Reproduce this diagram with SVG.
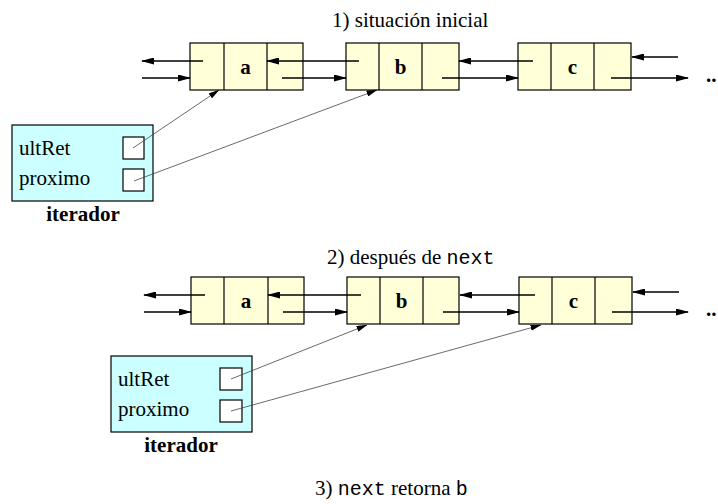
<svg xmlns="http://www.w3.org/2000/svg" width="718" height="504" viewBox="0 0 718 504">
  <style>
    .cell { fill: #ffffd8; stroke: #000; stroke-width: 1.2; }
    .div { stroke: #000; stroke-width: 1.2; }
    .iter { fill: #ccffff; stroke: #000; stroke-width: 1.2; }
    .slot { fill: #fff; stroke: #000; stroke-width: 1.2; }
    .lnk { fill: none; stroke: #000; stroke-width: 1.3; marker-end: url(#head); }
    .ptr { fill: none; stroke: #444; stroke-width: 0.8; marker-end: url(#phead); }
    .t { font-family: "Liberation Serif", "Times New Roman", serif; font-size: 21px; fill: #000; }
    .b { font-weight: bold; }
    .m { font-family: "Liberation Mono", "Courier New", monospace; font-size: 20px; }
  </style>
  <defs>
    <marker id="head" markerUnits="userSpaceOnUse" viewBox="0 0 13 7" refX="12" refY="3.5" markerWidth="13" markerHeight="7" orient="auto">
      <path d="M0,0 L13,3.5 L0,7 Z" fill="#000"/>
    </marker>
    <marker id="phead" markerUnits="userSpaceOnUse" viewBox="0 0 11 6" refX="10.5" refY="3" markerWidth="11" markerHeight="6" orient="auto">
      <path d="M0,0 L11,3 L0,6 Z" fill="#000"/>
    </marker>
  </defs>

  <!-- titles -->
  <text class="t" x="332" y="27">1) situación inicial</text>
  <text class="t" x="327" y="264" xml:space="preserve">2) después de <tspan class="m">next</tspan></text>
  <text class="t" x="315" y="495" xml:space="preserve">3) <tspan class="m">next</tspan> retorna <tspan class="m">b</tspan></text>

  <!-- state 1: list nodes -->
  <g id="node-a1">
    <rect class="cell" x="190" y="43" width="113" height="47"/>
    <line class="div" x1="224" y1="43" x2="224" y2="90"/>
    <line class="div" x1="267" y1="43" x2="267" y2="90"/>
    <text class="t b" x="245.5" y="74" text-anchor="middle">a</text>
  </g>
  <g id="node-b1">
    <rect class="cell" x="346" y="43" width="113" height="47"/>
    <line class="div" x1="379" y1="43" x2="379" y2="90"/>
    <line class="div" x1="422" y1="43" x2="422" y2="90"/>
    <text class="t b" x="400.5" y="74" text-anchor="middle">b</text>
  </g>
  <g id="node-c1">
    <rect class="cell" x="518" y="43" width="113" height="47"/>
    <line class="div" x1="551" y1="43" x2="551" y2="90"/>
    <line class="div" x1="594" y1="43" x2="594" y2="90"/>
    <text class="t b" x="572.5" y="74" text-anchor="middle">c</text>
  </g>
  <text class="t b" x="706" y="82">..</text>

  <!-- state 1: iterator -->
  <g id="iter1">
    <rect class="iter" x="12" y="125" width="141" height="76"/>
    <rect class="slot" x="123" y="137" width="21" height="22"/>
    <rect class="slot" x="123" y="169" width="21" height="22"/>
    <text class="t" x="19" y="155">ultRet</text>
    <text class="t" x="19" y="185">proximo</text>
    <text class="t b" x="83" y="221" text-anchor="middle">iterador</text>
  </g>

  <!-- state 2: list nodes -->
  <g id="node-a2">
    <rect class="cell" x="191" y="277" width="113" height="47"/>
    <line class="div" x1="224" y1="277" x2="224" y2="324"/>
    <line class="div" x1="268" y1="277" x2="268" y2="324"/>
    <text class="t b" x="246" y="308" text-anchor="middle">a</text>
  </g>
  <g id="node-b2">
    <rect class="cell" x="347" y="277" width="112" height="47"/>
    <line class="div" x1="380" y1="277" x2="380" y2="324"/>
    <line class="div" x1="423" y1="277" x2="423" y2="324"/>
    <text class="t b" x="401.5" y="308" text-anchor="middle">b</text>
  </g>
  <g id="node-c2">
    <rect class="cell" x="519" y="277" width="113" height="47"/>
    <line class="div" x1="552" y1="277" x2="552" y2="324"/>
    <line class="div" x1="595" y1="277" x2="595" y2="324"/>
    <text class="t b" x="573.5" y="308" text-anchor="middle">c</text>
  </g>
  <text class="t b" x="706" y="316">..</text>

  <!-- state 2: iterator -->
  <g id="iter2">
    <rect class="iter" x="111" y="356" width="141" height="76"/>
    <rect class="slot" x="220" y="368" width="22" height="22"/>
    <rect class="slot" x="220" y="400" width="22" height="22"/>
    <text class="t" x="118" y="386">ultRet</text>
    <text class="t" x="118" y="416">proximo</text>
    <text class="t b" x="181" y="452" text-anchor="middle">iterador</text>
  </g>

  <!-- connectors -->
  <g id="connectors">
    <!-- state 1 links -->
    <path class="lnk" d="M203,61 H142"/>
    <path class="lnk" d="M142,78 H190"/>
    <path class="lnk" d="M359,61 H267"/>
    <path class="lnk" d="M282,78 H346"/>
    <path class="lnk" d="M533,61 H459"/>
    <path class="lnk" d="M442,78 H518"/>
    <path class="lnk" d="M678,57 H632"/>
    <path class="lnk" d="M611,78 H688"/>
    <!-- state 1 iterator pointers -->
    <path class="ptr" d="M133,148 L219,90"/>
    <path class="ptr" d="M134,181 L377,90"/>

    <!-- state 2 links -->
    <path class="lnk" d="M205,295 H144"/>
    <path class="lnk" d="M144,312 H191"/>
    <path class="lnk" d="M361,295 H268"/>
    <path class="lnk" d="M283,312 H347"/>
    <path class="lnk" d="M535,295 H460"/>
    <path class="lnk" d="M443,312 H519"/>
    <path class="lnk" d="M679,292 H633"/>
    <path class="lnk" d="M612,312 H688"/>
    <!-- state 2 iterator pointers -->
    <path class="ptr" d="M231,379 L367,325"/>
    <path class="ptr" d="M231,411 L541,325"/>
  </g>
</svg>
